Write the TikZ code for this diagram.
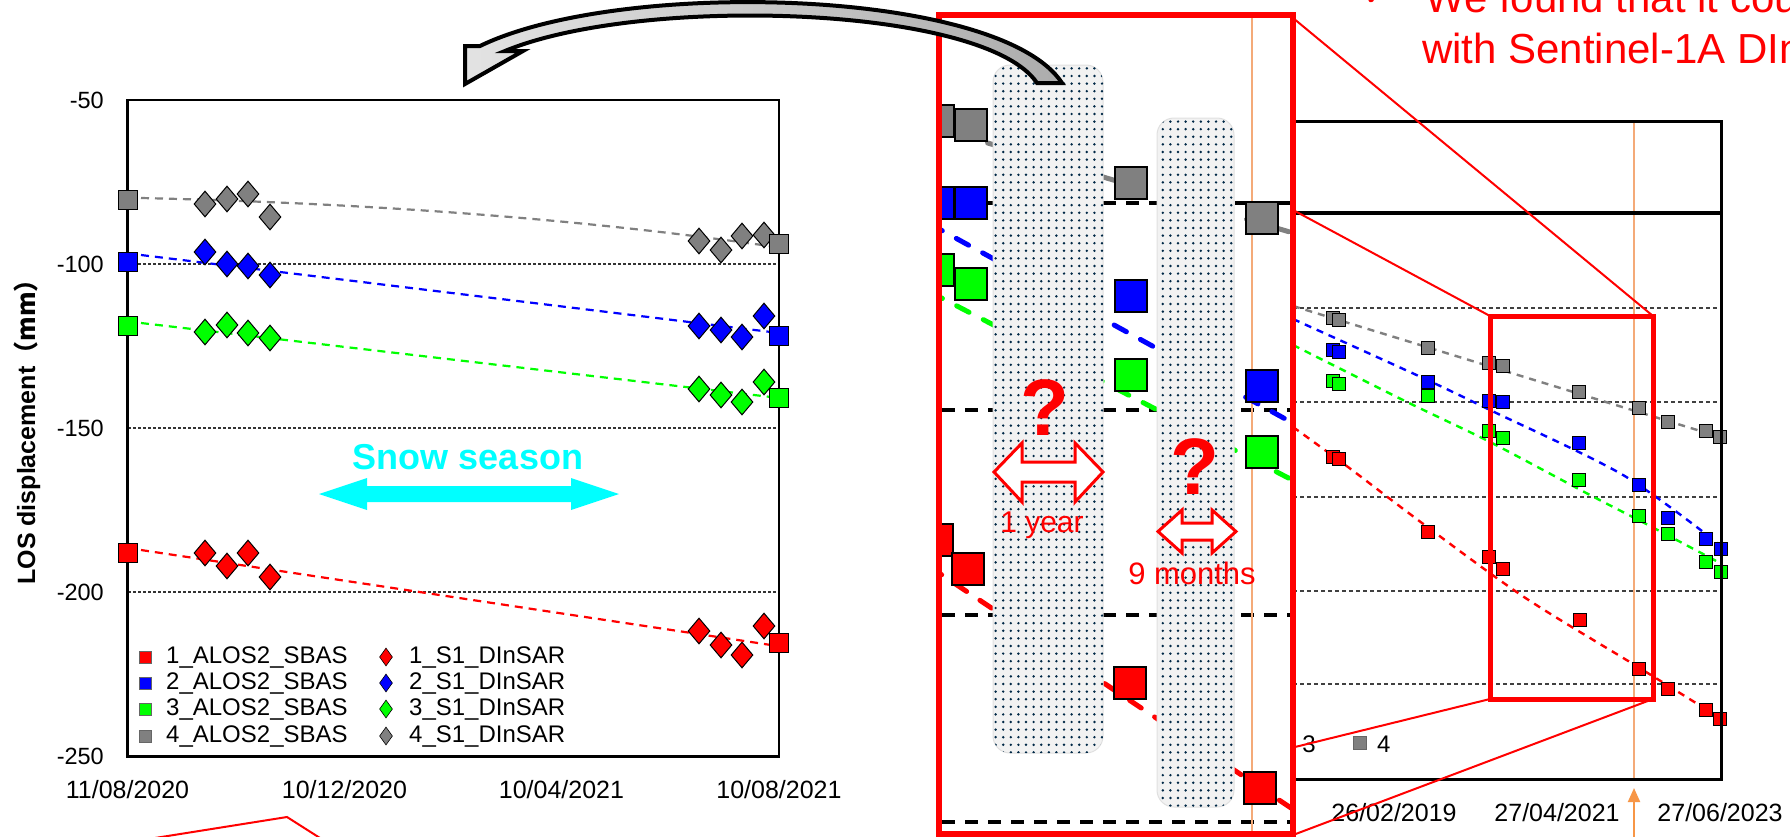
\documentclass[tikz,border=0pt]{standalone}
\usepackage{fontspec}
\setmainfont{Liberation Sans}
\newfontfamily\cjkfont{Noto Sans CJK JP}
\newfontfamily\symfont{DejaVu Sans}
\usetikzlibrary{shapes.geometric,arrows.meta,patterns.meta}
\definecolor{mred}{RGB}{255,0,0}
\definecolor{mblue}{RGB}{0,0,255}
\definecolor{mgreen}{RGB}{0,255,0}
\definecolor{mgray}{RGB}{128,128,128}
\definecolor{mcyan}{RGB}{0,255,255}
\definecolor{morange}{RGB}{244,170,120}
\definecolor{morangeA}{RGB}{247,150,70}
\definecolor{mdots}{RGB}{0,40,70}
\newcommand{\myfs}[1]{\fontsize{#1}{#1}\selectfont}
\begin{document}
\begin{tikzpicture}[x=1pt,y=-1pt,
  sqL/.style={draw=black, line width=1pt, minimum size=19pt, inner sep=0pt},
  dmL/.style={diamond, draw=black, line width=1pt, minimum width=22pt, minimum height=26pt, inner sep=0pt},
  legsq/.style={draw=black!60, line width=0.6pt, minimum size=12pt, inner sep=0pt},
  legdm/.style={diamond, draw=black, line width=0.6pt, minimum width=13pt, minimum height=18pt, inner sep=0pt},
  sqR/.style={draw=black, line width=1pt, minimum size=13pt, inner sep=0pt},
  sqM/.style={draw=black, line width=2.8pt, minimum size=32pt, inner sep=0pt},
  trL/.style={line width=2.2pt, dash pattern=on 8pt off 6pt},
  trR/.style={line width=2.4pt, dash pattern=on 7pt off 6pt},
  trM/.style={line width=5pt, line cap=round, dash pattern=on 14pt off 16pt},
  gridL/.style={black!80, line width=1.3pt, dash pattern=on 3pt off 2pt},
  gridR/.style={black!75, line width=1.4pt, dash pattern=on 4pt off 3pt},
  gridM/.style={black, line width=4pt, dash pattern=on 13pt off 10pt},
  ticklab/.style={font=\myfs{23.5}, inner sep=0pt, anchor=east},
  datelab/.style={font=\myfs{25}, inner sep=0pt},
  legtext/.style={font=\myfs{24}, inner sep=0pt, anchor=west},
  redln/.style={mred, line width=2pt},
  band/.style={fill=black!5, draw=black!12, line width=1pt, rounded corners=17pt},
  banddots/.style={pattern={Dots[distance=7.6pt,radius=1.35pt]}, pattern color=mdots, rounded corners=17pt},
  qmark/.style={font=\bfseries\myfs{80}, text=mred, inner sep=0pt},
  redtxt/.style={text=mred, inner sep=0pt}
]
\useasboundingbox (0,0) rectangle (1790,836);
\clip (0,0) rectangle (1790,836);
\fill[white] (0,0) rectangle (1790,836);

%% ================= LEFT CHART =================
\foreach \y in {264,428,592} \draw[gridL] (128,\y) -- (779,\y);
\draw[line width=2.5pt] (127.5,100) rectangle (779,756.5);
\foreach \v/\y in {-50/100,-100/264,-150/428,-200/592,-250/756}
  \node[ticklab] (tk\y) at (104,\y) {\v};
\node[datelab] (d1) at (127.5,790) {11/08/2020};
\node[datelab] (d2) at (344.5,790) {10/12/2020};
\node[datelab] (d3) at (561.5,790) {10/04/2021};
\node[datelab] (d4) at (779,790) {10/08/2021};
\node[rotate=90, font=\bfseries\myfs{25}, inner sep=0pt] (ylab) at (27,426) {LOS displacement{\cjkfont （mm）}};

% trend lines
\draw[trL, mgray] (141,198) .. controls (400,204) and (600,222) .. (769,246);
\draw[trL, mblue] (141,255) -- (771,332);
\draw[trL, mgreen] (141,323) -- (771,397);
\draw[trL, mred] (141,550) -- (771,645);

% diamonds
\foreach \x/\y [count=\i] in {205/204,227/199,248/194,270/217,699/241,721/250,742/236,764/235}
  \node[dmL, fill=mgray] (gdm\i) at (\x,\y) {};
\foreach \x/\y [count=\i] in {205/252,227/264,248/266,270/275,699/326,721/330,742/337,764/316}
  \node[dmL, fill=mblue] (bdm\i) at (\x,\y) {};
\foreach \x/\y [count=\i] in {205/332,227/325,248/333,270/338,699/389,721/395,742/402,764/382}
  \node[dmL, fill=mgreen] (gndm\i) at (\x,\y) {};
\foreach \x/\y [count=\i] in {205/553,227/566,248/553,270/577,699/631,721/645,742/655,764/626}
  \node[dmL, fill=mred] (rdm\i) at (\x,\y) {};
% squares
\node[sqL, fill=mgray] (gsq1) at (128,200) {};
\node[sqL, fill=mgray] (gsq2) at (779,244) {};
\node[sqL, fill=mblue] (bsq1) at (128,262) {};
\node[sqL, fill=mblue] (bsq2) at (779,336) {};
\node[sqL, fill=mgreen] (gnsq1) at (128,326) {};
\node[sqL, fill=mgreen] (gnsq2) at (779,398) {};
\node[sqL, fill=mred] (rsq1) at (128,553) {};
\node[sqL, fill=mred] (rsq2) at (779,643) {};

% legend
\foreach \n/\c/\y in {1/mred/657,2/mblue/683,3/mgreen/709,4/mgray/736}{
  \node[legsq, fill=\c] (lsq\n) at (145,\y) {};
  \node[legtext] (lst\n) at (166,\y) {\n\_ALOS2\_SBAS};
  \node[legdm, fill=\c] (ldm\n) at (386,\y) {};
  \node[legtext] (ldt\n) at (409,\y) {\n\_S1\_DInSAR};
}

% snow season
\node[font=\bfseries\myfs{36}, text=mcyan, inner sep=0pt] (snow) at (468,457) {Snow season};
\fill[mcyan] (319,494) -- (367,478) -- (367,486) -- (571,486) -- (571,478) -- (619,494)
  -- (571,510) -- (571,502) -- (367,502) -- (367,510) -- cycle;

% red lines bottom left
\draw[redln] (155,838) -- (287,817) -- (320,838);

%% ================= RIGHT CHART =================
\foreach \y in {308,402,497,591,684} \draw[gridR] (1293,\y) -- (1721,\y);
\draw[morange, line width=1.2pt] (1634,121) -- (1634,779);
\draw[trR, mgray] (1293,306) -- (1720,437);
\draw[trR, mblue] plot[smooth] coordinates {(1293,319) (1423,378) (1490,410) (1623,475) (1720,545)};
\draw[trR, mgreen] plot[smooth] coordinates {(1293,345) (1407,402) (1490,442) (1590,495) (1652,527) (1720,563)};
\draw[trR, mred] plot[smooth] coordinates {(1293,427) (1348,467) (1422,523) (1524,597) (1638,667) (1720,718)};
\foreach \x/\y [count=\i] in {1333/318,1339/320,1428/348,1489/363,1503/366,1579/392,1639/408,1668/422,1706/431,1720/437}
  \node[sqR, fill=mgray] (rg\i) at (\x,\y) {};
\foreach \x/\y [count=\i] in {1333/350,1339/352,1428/382,1489/401,1503/402,1579/443,1639/485,1668/518,1706/539,1721/549}
  \node[sqR, fill=mblue] (rb\i) at (\x,\y) {};
\foreach \x/\y [count=\i] in {1333/381,1339/384,1428/396,1489/431,1503/438,1579/480,1639/516,1668/534,1706/562,1721/572}
  \node[sqR, fill=mgreen] (rgn\i) at (\x,\y) {};
\foreach \x/\y [count=\i] in {1333/457,1339/459,1428/532,1489/557,1503/569,1580/620,1639/669,1668/689,1706/710,1720/719}
  \node[sqR, fill=mred] (rr\i) at (\x,\y) {};
\draw[line width=3pt] (1293,121) -- (1721,121) -- (1721,779) -- (1293,779);
\draw[line width=3.5pt] (1293,213) -- (1721,213);
\node[legtext, anchor=east] (l3) at (1316,744) {3};
\node[sqR, fill=mgray, draw=black!60] (l4sq) at (1360,743) {};
\node[legtext] (l4) at (1377,744) {4};
\node[datelab] (rd1) at (1394,813) {26/02/2019};
\node[datelab] (rd2) at (1557,813) {27/04/2021};
\node[datelab] (rd3) at (1720,813) {27/06/2023};
\coordinate (oa1) at (1634,842);
\coordinate (oa2) at (1634,788);
\draw[morangeA, line width=2pt, -{Triangle[length=14pt,width=12pt]}] (oa1) -- (oa2);

%% ================= MIDDLE PANEL =================
\fill[white] (939,15) rectangle (1293,834);
\begin{scope}
\clip (941,17) rectangle (1291,832);
\draw[gridM] (942,203) -- (1235,203);
\draw[black, line width=4pt] (1235,203) -- (1292,203);
\foreach \y in {410,615,822} \draw[gridM] (942,\y) -- (1292,\y);
\draw[morange, line width=1.5pt] (1252,15) -- (1252,834);
\draw[trM, mgray] (930,126) -- (1300,235);
\draw[trM, mblue] (930,224) -- (1300,427);
\draw[trM, mgreen] (930,292) -- (1300,484);
\draw[trM, mred] (930,567) -- (1300,814);
\path[band] (993,65) rectangle (1103,753);
\path[banddots] (993,65) rectangle (1103,753);
\path[band] (1157,118) rectangle (1234,807);
\path[banddots] (1157,118) rectangle (1234,807);
\node[sqM, fill=mgray] (mg1) at (938,121) {};
\node[sqM, fill=mgray] (mg2) at (971,125) {};
\node[sqM, fill=mgray] (mg3) at (1131,183) {};
\node[sqM, fill=mgray] (mg4) at (1262,218) {};
\node[sqM, fill=mblue] (mb1) at (938,203) {};
\node[sqM, fill=mblue] (mb2) at (971,203) {};
\node[sqM, fill=mblue] (mb3) at (1131,296) {};
\node[sqM, fill=mblue] (mb4) at (1262,386) {};
\node[sqM, fill=mgreen] (mgn1) at (938,270) {};
\node[sqM, fill=mgreen] (mgn2) at (971,284) {};
\node[sqM, fill=mgreen] (mgn3) at (1131,375) {};
\node[sqM, fill=mgreen] (mgn4) at (1262,452) {};
\node[sqM, fill=mred] (mr1) at (937,540) {};
\node[sqM, fill=mred] (mr2) at (968,569) {};
\node[sqM, fill=mred] (mr3) at (1130,683) {};
\node[sqM, fill=mred] (mr4) at (1260,788) {};
\end{scope}

% question marks and double arrows
\node[qmark] (q1) at (1045,408) {?};
\node[qmark] (q2) at (1195,467) {?};
\draw[mred, line width=3pt, fill=white, line join=miter]
  (994,472) -- (1022,443) -- (1022,462) -- (1075,462) -- (1075,443) -- (1103,472)
  -- (1075,502) -- (1075,482) -- (1022,482) -- (1022,502) -- cycle;
\draw[mred, line width=3pt, fill=white, line join=miter]
  (1158,531.5) -- (1182,510) -- (1182,523) -- (1212,523) -- (1212,510) -- (1236,531.5)
  -- (1212,553) -- (1212,540) -- (1182,540) -- (1182,553) -- cycle;
\node[redtxt, font=\myfs{30}] (yr) at (1042,525) {1 year};
\node[redtxt, font=\myfs{31}] (mo) at (1192,573) {9 months};

%% ================= ZOOM BOX AND LINKS =================
\draw[mred, line width=5pt] (1490,316) rectangle (1653,699);
\coordinate (bf1) at (1293,18);
\coordinate (bf2) at (1293,210);
\coordinate (bf3) at (1295,747);
\coordinate (bf4) at (1293,835);
\coordinate (sb1) at (1653,316);
\coordinate (sb2) at (1490,316);
\coordinate (sb3) at (1490,699);
\coordinate (sb4) at (1653,699);
\draw[redln] (bf1) -- (sb1);
\draw[redln] (bf2) -- (sb2);
\draw[redln] (sb3) -- (bf3);
\draw[redln] (sb4) -- (bf4);
\draw[mred, line width=5.5pt] (939,15) rectangle (1293,834);

%% ================= CURVED ARROW =================
\path[draw=black, line width=4pt, line join=miter, left color=gray!22, right color=gray!65]
  (465,46) -- (480,46) .. controls (620,-22) and (1000,-12) .. (1062,83)
  -- (1037,83) .. controls (985,5) and (640,-5) .. (505,51)
  -- (523,51) -- (465,84) -- cycle;

%% ================= RED TEXT =================
\node[redtxt, font=\symfont\myfs{40}, anchor=base] (ck) at (1378,6) {✓};
\node[redtxt, font=\myfs{42}, anchor=base west] (t1) at (1425,12) {We found that it cou};
\node[redtxt, font=\myfs{42}, anchor=base west] (t2) at (1422,63) {with Sentinel-1A DIn};
\end{tikzpicture}
\end{document}
